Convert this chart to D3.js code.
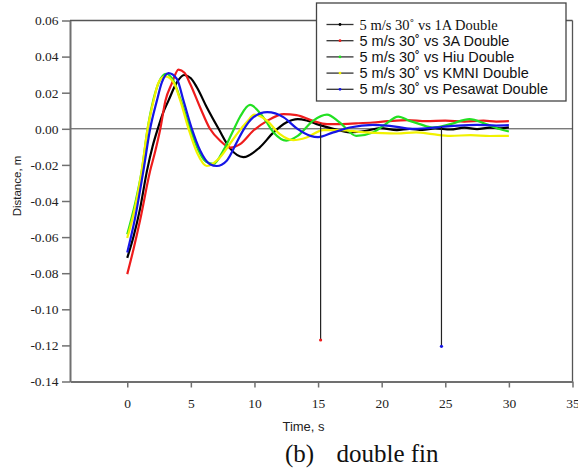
<!DOCTYPE html>
<html>
<head>
<meta charset="utf-8">
<script src="https://cdn.jsdelivr.net/npm/d3@7"></script>
<style>
  html, body { margin: 0; padding: 0; background: #fff; }
  svg { display: block; }
</style>
</head>
<body>
<svg id="chart" width="578" height="470"></svg>
<script>
// Roll response of the double-fin configurations, 5 m/s at 30 degrees
const seriesNames = [
  "5 m/s 30˚ vs 1A Double",
  "5 m/s 30˚ vs 3A Double",
  "5 m/s 30˚ vs Hiu Double",
  "5 m/s 30˚ vs KMNI Double",
  "5 m/s 30˚ vs Pesawat Double"
];
const seriesColors = ["#000000", "#ee1c1c", "#22e022", "#f2f200", "#1616e6"];

const t1A = [0, 0.5, 1, 1.55, 2, 2.4, 2.8, 3.24, 3.9, 4.47, 5.0, 5.47, 6.26, 7.18, 8.1, 9.13, 10.4, 11.5, 12.5, 13.4, 14.1, 14.9, 16.2, 17.5, 18.8, 19.9, 21.2, 22.2, 23.2, 24.2, 25.4, 26.5, 27.5, 28.5, 29.3, 30];
const v1A = [-0.0715, -0.0595, -0.0445, -0.0233, -0.0095, 0.0, 0.0085, 0.0156, 0.0257, 0.0298, 0.028, 0.023, 0.0118, 0.0, -0.011, -0.0157, -0.0104, -0.002, 0.0035, 0.0054, 0.0046, 0.0026, 0.0, -0.002, -0.0011, 0.0004, -0.0007, 0.0, -0.0006, 0.0002, -0.0004, 0.0006, -0.0002, 0.0007, 0.0003, 0.0008];

const t3A = [0, 0.5, 1, 1.8, 2.2, 2.6, 3.0, 3.5, 4.03, 4.5, 4.95, 5.73, 6.5, 7.3, 8.1, 8.87, 9.9, 11.0, 12.3, 13.3, 14.6, 15.7, 16.7, 18.0, 19.3, 20.5, 22.0, 23.5, 25.0, 26.5, 28.0, 29.0, 30];
const v3A = [-0.0805, -0.0665, -0.051, -0.0233, -0.0125, 0.0, 0.0155, 0.025, 0.0328, 0.031, 0.0248, 0.0118, 0.0, -0.0066, -0.0104, -0.0085, -0.0011, 0.0044, 0.0081, 0.0076, 0.0044, 0.0026, 0.0026, 0.003, 0.0035, 0.0042, 0.0048, 0.0042, 0.0045, 0.004, 0.0045, 0.004, 0.0042];

const tHiu = [0, 0.6, 1.15, 1.6, 2.07, 2.5, 3.05, 3.6, 4.2, 4.95, 5.6, 6.2, 6.78, 7.57, 8.23, 8.87, 9.65, 10.7, 11.5, 12.5, 13.4, 14.6, 15.7, 16.7, 18.0, 19.3, 20.2, 21.3, 22.2, 23.0, 24.0, 25.4, 26.9, 28.2, 29.2, 30];
const vHiu = [-0.0585, -0.042, -0.0228, 0.0, 0.0165, 0.026, 0.0305, 0.027, 0.016, 0.0, -0.012, -0.0183, -0.0194, -0.0118, -0.0025, 0.0067, 0.0132, 0.0063, -0.002, -0.0065, -0.0039, 0.0044, 0.0078, 0.0035, -0.0039, -0.002, 0.002, 0.0068, 0.0044, 0.0026, 0.0007, 0.0026, 0.0054, 0.0026, 0.0, -0.0015];

const tKMNI = [0, 0.6, 1.1, 1.6, 2.07, 2.46, 2.98, 3.64, 4.17, 4.82, 5.47, 6.25, 7.3, 8.1, 8.75, 9.4, 10.0, 11.0, 12.0, 13.05, 14.1, 15.4, 16.7, 18.8, 21.2, 22.7, 24.0, 25.4, 27.0, 28.5, 30];
const vKMNI = [-0.0605, -0.044, -0.025, 0.0, 0.0156, 0.0257, 0.029, 0.0257, 0.0156, 0.0, -0.013, -0.0206, -0.0157, -0.008, -0.0017, 0.0037, 0.0078, 0.0044, -0.003, -0.0063, -0.0048, -0.0007, -0.0007, -0.002, -0.0026, -0.002, -0.003, -0.0039, -0.0035, -0.004, -0.0039];

const tPesawat = [0, 0.6, 1.28, 1.8, 2.33, 2.72, 3.24, 3.9, 4.42, 5.08, 5.73, 6.5, 7.04, 7.8, 8.6, 9.1, 9.9, 11.0, 12.3, 13.3, 14.4, 15.0, 16.2, 17.5, 19.3, 21.2, 22.2, 23.5, 24.7, 26, 27.5, 29, 30];
const vPesawat = [-0.0685, -0.050, -0.0228, 0.0, 0.0156, 0.0257, 0.0309, 0.0276, 0.0156, 0.0, -0.012, -0.0196, -0.0206, -0.0178, -0.0076, -0.001, 0.0063, 0.0092, 0.0063, 0.0004, -0.0039, -0.0046, -0.002, 0.0007, 0.0022, 0.0011, 0.0, 0.0003, 0.001, 0.0018, 0.0022, 0.0018, 0.002];

// single-sample dropouts (series index, time, level before, level at dropout)
const spikeSeries = [1, 4];
const spikeTimes = [15.2, 24.7];
const spikeTops = [0.003, 0.001];
const spikeBottoms = [-0.117, -0.1205];

const xTicks = [0, 5, 10, 15, 20, 25, 30, 35];
const yTicks = [0.06, 0.04, 0.02, 0.00, -0.02, -0.04, -0.06, -0.08, -0.10, -0.12, -0.14];

const xTitle = "Time, s";
const yTitle = "Distance, m";
const captionParts = ["(b)", "double fin"];

const seriesT = [t1A, t3A, tHiu, tKMNI, tPesawat];
const seriesV = [v1A, v3A, vHiu, vKMNI, vPesawat];

const serif = "'Liberation Serif', 'Times New Roman', serif";
const sans = "'Liberation Sans', Arial, sans-serif";

const svg = d3.select("#chart");
const x = d3.scaleLinear().domain([-4.5, 35]).range([70, 572.5]);
const y = d3.scaleLinear().domain([-0.14, 0.06]).range([381.5, 20.5]);

// frame: thin top and right edges
svg.append("line").attr("x1", 70).attr("x2", 572.5).attr("y1", 20.5).attr("y2", 20.5)
  .attr("stroke", "#555").attr("stroke-width", 1.3);
svg.append("line").attr("x1", 572.5).attr("x2", 572.5).attr("y1", 20.5).attr("y2", 381.5)
  .attr("stroke", "#555").attr("stroke-width", 1.3);

// zero reference line
svg.append("line").attr("x1", 70).attr("x2", 572.5).attr("y1", y(0)).attr("y2", y(0))
  .attr("stroke", "#444").attr("stroke-width", 1);

// y axis
const yAxis = svg.append("g").attr("transform", "translate(70,0)")
  .call(d3.axisLeft(y).tickValues(yTicks).tickFormat(v => v.toFixed(2)).tickSize(8).tickSizeOuter(0).tickPadding(3.5));
yAxis.select(".domain").attr("stroke", "#707070").attr("stroke-width", 2);
yAxis.selectAll(".tick line").attr("stroke", "#707070").attr("stroke-width", 1.5);
yAxis.selectAll(".tick text").attr("font-family", serif).attr("font-size", 13.5).attr("fill", "#222");

// x axis
const xAxis = svg.append("g").attr("transform", "translate(0,381.5)")
  .call(d3.axisBottom(x).tickValues(xTicks).tickFormat(d3.format("d")).tickSize(6).tickSizeOuter(0));
xAxis.select(".domain").attr("stroke", "#707070").attr("stroke-width", 2);
xAxis.selectAll(".tick line").attr("stroke", "#707070").attr("stroke-width", 1.5);
xAxis.selectAll(".tick text").attr("font-family", serif).attr("font-size", 13.5).attr("fill", "#222")
  .attr("y", 26.5).attr("dy", 0);

// curves
const line = d3.line().x(d => x(d[0])).y(d => y(d[1])).curve(d3.curveMonotoneX);
seriesT.forEach((ts, i) => {
  const pts = ts.map((t, k) => [t, seriesV[i][k]]);
  svg.append("path").datum(pts).attr("d", line)
    .attr("fill", "none").attr("stroke", seriesColors[i])
    .attr("stroke-width", 2.2).attr("stroke-linejoin", "round");
});

// dropouts
spikeTimes.forEach((t, i) => {
  svg.append("line").attr("x1", x(t)).attr("x2", x(t))
    .attr("y1", y(spikeTops[i])).attr("y2", y(spikeBottoms[i]))
    .attr("stroke", "#222").attr("stroke-width", 1.2);
  svg.append("circle").attr("cx", x(t)).attr("cy", y(spikeBottoms[i])).attr("r", 1.6)
    .attr("fill", seriesColors[spikeSeries[i]]);
});

// axis titles
svg.append("text").attr("x", 303.5).attr("y", 430.5).attr("text-anchor", "middle")
  .attr("font-family", sans).attr("font-size", 13).attr("fill", "#222").text(xTitle);
svg.append("text").attr("transform", "translate(21,186) rotate(-90)").attr("text-anchor", "middle")
  .attr("font-family", sans).attr("font-size", 11.5).attr("fill", "#222").text(yTitle);

// caption
svg.append("text").attr("x", 285).attr("y", 462).attr("font-family", serif)
  .attr("font-size", 25).attr("fill", "#111").text(captionParts[0]);
svg.append("text").attr("x", 336.5).attr("y", 462).attr("font-family", serif)
  .attr("font-size", 25).attr("fill", "#111").text(captionParts[1]);

// legend
const lg = svg.append("g");
lg.append("rect").attr("x", 316.5).attr("y", 3).attr("width", 249.5).attr("height", 98)
  .attr("fill", "#fff").attr("stroke", "#444").attr("stroke-width", 1.3);
seriesNames.forEach((name, i) => {
  const cy = 24.5 + i * 16.2;
  lg.append("line").attr("x1", 326.5).attr("x2", 353.5).attr("y1", cy).attr("y2", cy)
    .attr("stroke", "#333").attr("stroke-width", 1.3);
  lg.append("circle").attr("cx", 340).attr("cy", cy).attr("r", 1.4).attr("fill", seriesColors[i]);
  lg.append("text").attr("x", 359.5).attr("y", cy + 5)
    .attr("font-family", i === 0 ? serif : sans).attr("font-size", 14.5).attr("fill", "#111")
    .text(name);
});
</script>
</body>
</html>
